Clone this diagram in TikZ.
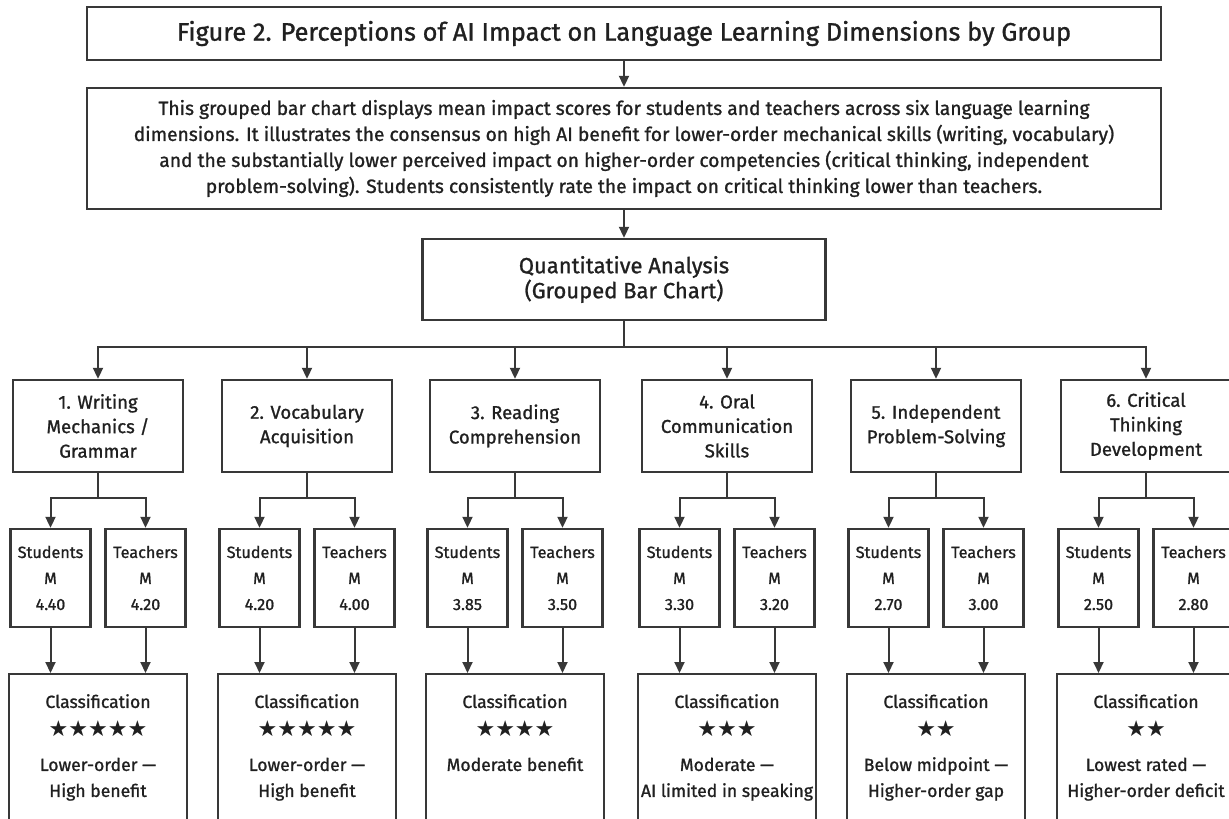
\documentclass[tikz,border=0pt]{standalone}
\usepackage{fontspec}
\setmainfont{Fira Sans}[FakeBold=1.1]
\newfontfamily\starfont{DejaVu Sans}
\usepackage{tikz}
\usetikzlibrary{positioning,arrows.meta}

\definecolor{linegray}{HTML}{383838}
\definecolor{textgray}{HTML}{202020}

\tikzset{
  box/.style={draw=linegray, line width=2.4pt, text=textgray, align=center, inner sep=0pt},
  titlebox/.style={box, minimum width=1074pt, minimum height=53pt, font=\fontsize{25.4}{26}\selectfont},
  descbox/.style={box, minimum width=1074pt, minimum height=121pt, font=\fontsize{19.2}{26}\selectfont},
  quantbox/.style={box, minimum width=403pt, minimum height=81pt, font=\fontsize{22}{25}\selectfont},
  catbox/.style={box, minimum width=170pt, minimum height=92pt, font=\fontsize{18.6}{24.5}\selectfont},
  subbox/.style={box, minimum width=80pt, minimum height=98pt, font=\fontsize{16.2}{26}\selectfont},
  clsbox/.style={box, anchor=north},
  link/.style={draw=linegray, line width=2pt},
  arr/.style={link, -{Triangle[length=11pt,width=10pt]}}
}

\newcommand{\clstext}[2]{\parbox[c][146pt][t]{178pt}{\centering
  \fontsize{17.6}{26}\selectfont\vspace*{20pt}Classification\\[3pt]
  {\starfont\fontsize{22}{26}\selectfont #1}\\[8pt]#2}}

% one dimension: name, x, label, students M, teachers M, stars, note
\newcommand{\dimgroup}[7]{%
  \node[catbox] (#1) at (#2,426) {#3};
  \node[subbox] (#1s) at (#2-47.5,578) {Students\\M\\#4};
  \node[subbox] (#1t) at (#2+47.5,578) {Teachers\\M\\#5};
  \node[clsbox] (#1k) at (#2,673) {\clstext{#6}{#7}};
  \coordinate (#1j) at (#2,498);
  \draw[arr] (bus) -| (#1.north);
  \draw[link] (#1.south) -- (#1j);
  \draw[arr] (#1j) -| (#1s.north);
  \draw[arr] (#1j) -| (#1t.north);
  \draw[arr] (#1s.south) -- (#1s.south |- #1k.north);
  \draw[arr] (#1t.south) -- (#1t.south |- #1k.north);
}

\begin{document}
\begin{tikzpicture}[x=1pt,y=-1pt]

\useasboundingbox (0,0) rectangle (1229,819);

\node[titlebox] (title) at (624,33.5) {Figure 2. Perceptions of AI Impact on Language Learning Dimensions by Group};
\node[descbox] (desc) at (624,148.5) {This grouped bar chart displays mean impact scores for students and teachers across six language learning\\
dimensions. It illustrates the consensus on high AI benefit for lower-order mechanical skills (writing, vocabulary)\\
and the substantially lower perceived impact on higher-order competencies (critical thinking, independent\\
problem-solving). Students consistently rate the impact on critical thinking lower than teachers.};
\node[quantbox] (quant) at (624,279.5) {Quantitative Analysis\\(Grouped Bar Chart)};
\coordinate (bus) at (624,347);

\draw[arr] (title) -- (desc);
\draw[arr] (desc) -- (quant);
\draw[link] (quant) -- (bus);

\dimgroup{wm}{98}{1. Writing\\Mechanics /\\Grammar}{4.40}{4.20}{★★★★★}{Lower-order —\\High benefit}
\dimgroup{va}{307}{2. Vocabulary\\Acquisition}{4.20}{4.00}{★★★★★}{Lower-order —\\High benefit}
\dimgroup{rc}{515}{3. Reading\\Comprehension}{3.85}{3.50}{★★★★}{Moderate benefit}
\dimgroup{oc}{727}{4. Oral\\Communication\\Skills}{3.30}{3.20}{★★★}{Moderate —\\AI limited in speaking}
\dimgroup{ip}{936}{5. Independent\\Problem-Solving}{2.70}{3.00}{★★}{Below midpoint —\\Higher-order gap}
\dimgroup{ct}{1146}{6. Critical\\Thinking\\Development}{2.50}{2.80}{★★}{Lowest rated —\\Higher-order deficit}

\end{tikzpicture}
\end{document}
